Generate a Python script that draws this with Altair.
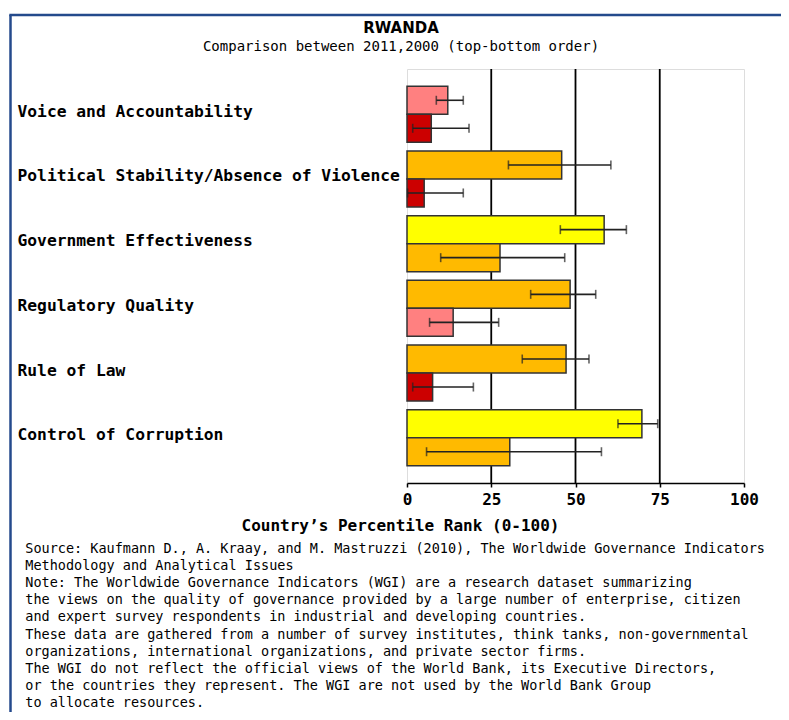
import altair as alt
import pandas as pd

# ---- data ----
indicators = [
    "Voice and Accountability",
    "Political Stability/Absence of Violence",
    "Government Effectiveness",
    "Regulatory Quality",
    "Rule of Law",
    "Control of Corruption",
]
years = ["2011", "2000"]
rank_2011 = [12.1, 45.9, 58.5, 48.4, 47.2, 69.7]
low_2011 = [8.7, 30.1, 45.5, 36.7, 34.2, 62.6]
high_2011 = [16.7, 60.5, 65.1, 56.0, 54.0, 74.4]
rank_2000 = [7.2, 5.1, 27.6, 13.7, 7.6, 30.5]
low_2000 = [1.7, 0.2, 10.0, 6.7, 1.7, 5.8]
high_2000 = [18.4, 16.7, 46.8, 27.2, 19.7, 57.7]
x_ticks = [0, 25, 50, 75, 100]
grid_values = [25, 50, 75]
color_breaks = [10, 25, 50, 75]
color_range = ["#CC0000", "#FF8080", "#FFBA00", "#FFFF00", "#66CC00"]

title_text = "RWANDA"
subtitle_text = "Comparison between 2011,2000 (top-bottom order)"
x_title = "Country\u2019s Percentile Rank (0-100)"
footnote_lines = [
    "Source: Kaufmann D., A. Kraay, and M. Mastruzzi (2010), The Worldwide Governance Indicators",
    "Methodology and Analytical Issues",
    "Note: The Worldwide Governance Indicators (WGI) are a research dataset summarizing",
    "the views on the quality of governance provided by a large number of enterprise, citizen",
    "and expert survey respondents in industrial and developing countries.",
    "These data are gathered from a number of survey institutes, think tanks, non-governmental",
    "organizations, international organizations, and private sector firms.",
    "The WGI do not reflect the official views of the World Bank, its Executive Directors,",
    "or the countries they represent. The WGI are not used by the World Bank Group",
    "to allocate resources.",
]

rows = []
for i, ind in enumerate(indicators):
    rows.append(dict(indicator=ind, year="2011", value=rank_2011[i], lo=low_2011[i], hi=high_2011[i]))
    rows.append(dict(indicator=ind, year="2000", value=rank_2000[i], lo=low_2000[i], hi=high_2000[i]))
df = pd.DataFrame(rows)

MONO = "DejaVu Sans Mono"
W, H = 337, 414

x_enc = alt.X(
    "value:Q",
    scale=alt.Scale(domain=[0, 100], nice=False),
    axis=alt.Axis(
        values=x_ticks, grid=False, domainColor="black", domainWidth=1.5,
        tickColor="black", tickSize=4, tickWidth=1.5,
        labelFont=MONO, labelFontSize=16, labelFontWeight="bold", labelColor="black",
        labelPadding=4, labelFlush=False,
        title=x_title, titleFont=MONO, titleFontSize=16, titleFontWeight="bold",
        titleColor="black", titleX=-7, titleY=47, titleBaseline="alphabetic",
        titleAlign="center", titleAnchor="start",
    ),
)
y_enc = alt.Y(
    "indicator:N", sort=indicators,
    scale=alt.Scale(paddingInner=0.134, paddingOuter=0.267),
    axis=alt.Axis(
        title=None, ticks=False, tickSize=0, domain=False,
        labelAlign="left", labelBaseline="alphabetic", labelOffset=2.5,
        labelPadding=390, labelLimit=500,
        labelFont=MONO, labelFontSize=16.3, labelFontWeight="bold", labelColor="black",
    ),
)
yoff = alt.YOffset("year:N", sort=years, scale=alt.Scale(paddingInner=0, paddingOuter=0))

base = alt.Chart(df)

grid = alt.Chart(pd.DataFrame({"g": grid_values})).mark_rule(
    color="black", strokeWidth=1.8
).encode(x=alt.X("g:Q"))

bars = base.mark_bar(stroke="#333333", strokeWidth=1.5).encode(
    x=x_enc, y=y_enc, yOffset=yoff,
    color=alt.Color("value:Q", scale=alt.Scale(type="threshold", domain=color_breaks, range=color_range), legend=None),
)

err = base.mark_rule(color="#222222", strokeWidth=1.6).encode(
    x="lo:Q", x2="hi:Q", y=alt.Y("indicator:N", sort=indicators), yOffset=yoff
)
cap_lo = base.mark_tick(color="#222222", thickness=1.6, size=9).encode(
    x="lo:Q", y=alt.Y("indicator:N", sort=indicators), yOffset=yoff
)
cap_hi = base.mark_tick(color="#222222", thickness=1.6, size=9).encode(
    x="hi:Q", y=alt.Y("indicator:N", sort=indicators), yOffset=yoff
)

one = pd.DataFrame({"t": [title_text], "s": [subtitle_text], "f": ["\n".join(footnote_lines)]})

title_mark = alt.Chart(one).mark_text(
    font="DejaVu Sans", fontSize=15, fontWeight="bold", color="black",
    align="center", baseline="alphabetic"
).encode(text="t:N", x=alt.value(-6), y=alt.value(-35.7))

subtitle_mark = alt.Chart(one).mark_text(
    font=MONO, fontSize=14, color="black", align="center", baseline="alphabetic"
).encode(text="s:N", x=alt.value(-6), y=alt.value(-18.3))

foot_mark = alt.Chart(one).mark_text(
    font=MONO, fontSize=13.5, color="black", align="left", baseline="alphabetic",
    lineBreak="\n", lineHeight=17.2
).encode(text="f:N", x=alt.value(-381.7), y=alt.value(483.5))

frame_v = alt.Chart(one).mark_rule(color="#244A8C", strokeWidth=2.5).encode(
    x=alt.value(-396.5), y=alt.value(-54), y2=alt.value(700)
)
frame_h = alt.Chart(one).mark_rule(color="#244A8C", strokeWidth=2.5).encode(
    x=alt.value(-397.7), x2=alt.value(500), y=alt.value(-54)
)

chart = alt.layer(
    grid, bars, err, cap_lo, cap_hi, title_mark, subtitle_mark, foot_mark, frame_v, frame_h
).properties(
    width=W, height=H,
    autosize=alt.AutoSizeParams(type="none"),
    padding={"left": 399, "top": 61, "right": 37, "bottom": 229},
).configure_view(
    stroke="#999999", strokeWidth=2
).configure(background="white")

chart.save("out.html", embed_options={"renderer": "svg", "actions": False})
